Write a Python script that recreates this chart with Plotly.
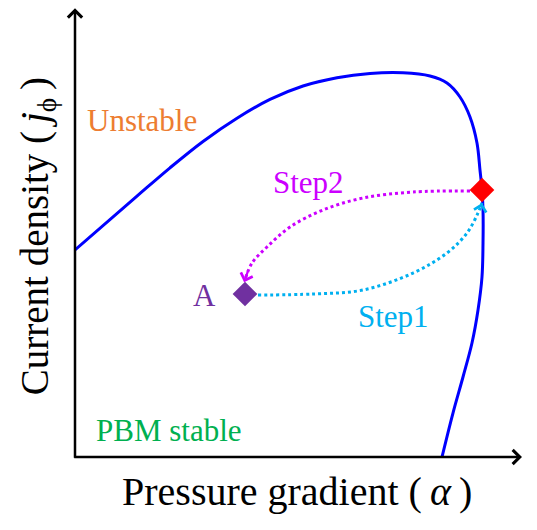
import plotly.graph_objects as go

# Stability boundary (arbitrary units)
boundary_x = [0, 13.8, 21.25, 28.64, 36.24, 43.62, 51.01, 58.61, 66.0, 73.38, 79.42, 83.22, 86.13,
              88.37, 89.93, 90.6, 91.05, 91.28, 91.28, 91.05, 90.16, 88.81, 86.8, 84.56, 82.1]
boundary_y = [46.31, 58.3, 64.7, 70.6, 75.8, 80.0, 83.0, 84.85, 85.8, 85.95, 85.23, 83.67, 80.54,
              76.06, 70.25, 64.21, 59.73, 55.26, 47.87, 40.27, 32.89, 25.5, 17.9, 9.84, 0]

step1_x = [40.94, 53.24, 64.43, 75.62, 83.22, 87.7, 90.16, 91.05]
step1_y = [36.24, 36.47, 37.36, 41.16, 45.64, 50.11, 54.59, 56.82]

step2_x = [88.37, 75.62, 64.43, 55.48, 48.1, 42.95, 39.6, 38.03]
step2_y = [59.51, 59.28, 57.94, 55.26, 51.45, 46.98, 43.4, 39.6]

point_names = ["A", "B"]
point_x = [38.03, 91.05]
point_y = [36.47, 59.73]
point_colors = ["#7030A0", "#FF0000"]

FONT = "Liberation Serif"

fig = go.Figure()
fig.add_trace(go.Scatter(x=boundary_x, y=boundary_y, mode="lines",
                         line=dict(color="#0000FF", width=3, shape="spline", smoothing=1.0),
                         hoverinfo="skip", cliponaxis=False))
fig.add_trace(go.Scatter(x=step1_x, y=step1_y, mode="lines",
                         line=dict(color="#00B0F0", width=3, dash="dot", shape="spline"),
                         hoverinfo="skip"))
fig.add_trace(go.Scatter(x=step2_x, y=step2_y, mode="lines",
                         line=dict(color="#CC00FF", width=3, dash="dot", shape="spline"),
                         hoverinfo="skip"))
fig.add_trace(go.Scatter(x=point_x, y=point_y, mode="markers",
                         marker=dict(symbol="diamond", size=19, color=point_colors, line=dict(width=0)),
                         hoverinfo="skip", cliponaxis=False))

ann = []
# axes arrows
ann.append(dict(xref="x domain", yref="y domain", axref="x domain", ayref="y domain",
                x=1, y=0, ax=-0.005, ay=0,
                text="", showarrow=True, arrowhead=4, arrowwidth=2.5, arrowsize=1.1, arrowcolor="black"))
ann.append(dict(xref="x domain", yref="y domain", axref="x domain", ayref="y domain",
                x=0, y=1.004, ax=0, ay=-0.005,
                text="", showarrow=True, arrowhead=4, arrowwidth=2.5, arrowsize=1.1, arrowcolor="black"))
# step arrowheads
ann.append(dict(x=step1_x[-1], y=step1_y[-1], ax=step1_x[-2] + 0.6, ay=step1_y[-2] + 1.0,
                axref="x", ayref="y", text="", showarrow=True, arrowhead=4, arrowwidth=2.2,
                arrowsize=1.1, arrowcolor="#00B0F0"))
ann.append(dict(x=step2_x[-1] - 0.2, y=step2_y[-1] - 0.5, ax=step2_x[-2] - 0.8, ay=step2_y[-2] - 1.5,
                axref="x", ayref="y", text="", showarrow=True, arrowhead=4, arrowwidth=2.2,
                arrowsize=1.1, arrowcolor="#CC00FF"))

labels = [
    ("Unstable", 14.99, 75.39, "#ED7D31"),
    ("Step2", 52.13, 61.52, "#CC00FF"),
    ("Step1", 71.36, 31.54, "#00B0F0"),
    ("A", 28.86, 36.02, "#7030A0"),
    ("B", 100.9, 59.28, "#FF0000"),
    ("PBM stable", 21.03, 6.04, "#00B050"),
]
for t, x, y, c in labels:
    ann.append(dict(x=x, y=y, text=t, showarrow=False, font=dict(family=FONT, size=31, color=c),
                    xanchor="center", yanchor="middle"))

ann.append(dict(xref="paper", yref="paper", x=0.497, y=-0.078,
                text="Pressure gradient (\u2009<i>α</i>\u2009)",
                showarrow=False, font=dict(family=FONT, size=40, color="black"),
                xanchor="center", yanchor="middle"))
ann.append(dict(xref="paper", yref="paper", x=-0.085, y=0.494,
                text="Current density (\u2009<i>j</i><sub>ϕ</sub>\u2009)", textangle=-90,
                showarrow=False, font=dict(family=FONT, size=39, color="black"),
                xanchor="center", yanchor="middle"))

fig.update_layout(
    width=537, height=530,
    margin=dict(l=75, r=15, t=10, b=73),
    plot_bgcolor="white", paper_bgcolor="white",
    showlegend=False,
    font=dict(family=FONT),
    annotations=ann,
    xaxis=dict(range=[0, 100], visible=False, fixedrange=True),
    yaxis=dict(range=[0, 100], visible=False, fixedrange=True),
)

fig.write_html("out.html")
